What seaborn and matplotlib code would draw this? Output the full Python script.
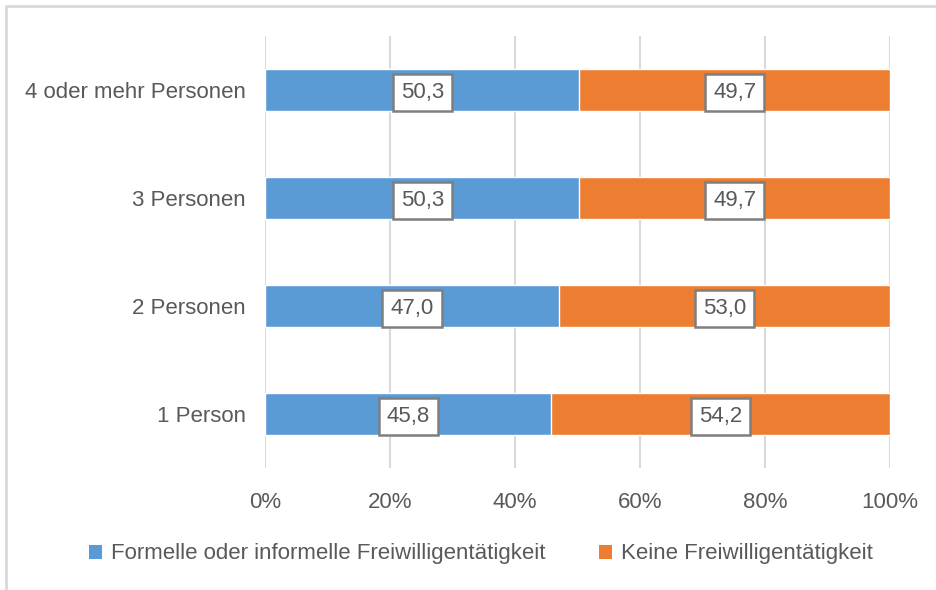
import matplotlib
matplotlib.use("Agg")
import matplotlib.pyplot as plt
import seaborn as sns
import pandas as pd
from matplotlib.lines import Line2D
from matplotlib.patches import Patch

categories = ["4 oder mehr Personen", "3 Personen", "2 Personen", "1 Person"]
formell = [50.3, 50.3, 47.0, 45.8]
keine = [49.7, 49.7, 53.0, 54.2]
series_names = ["Formelle oder informelle Freiwilligentätigkeit", "Keine Freiwilligentätigkeit"]
xticks = [0, 20, 40, 60, 80, 100]
xticklabels = ["0%", "20%", "40%", "60%", "80%", "100%"]

BLUE = "#5B9BD5"
ORANGE = "#ED7D31"
TEXT = "#595959"
GRID = "#D9D9D9"

sns.set_theme(style="white")
plt.rcParams["font.family"] = ["Liberation Sans", "DejaVu Sans"]

df = pd.DataFrame({"cat": categories, "formell": formell, "keine": keine})
df["total"] = df["formell"] + df["keine"]

fig = plt.figure(figsize=(9.36, 5.9), dpi=100)
ax = fig.add_axes([265/936, 1-468/590, (890-265)/936, (468-36)/590])

sns.barplot(data=df, x="total", y="cat", orient="h", color=ORANGE, width=0.39,
            saturation=1, ax=ax, zorder=3)
sns.barplot(data=df, x="formell", y="cat", orient="h", color=BLUE, width=0.39,
            saturation=1, ax=ax, zorder=4)

for i, (f, k) in enumerate(zip(formell, keine)):
    for xc, v in ((f / 2, f), (f + k / 2, k)):
        ax.text(xc, i, f"{v:.1f}".replace(".", ","), ha="center", va="center_baseline",
                fontsize=16, color=TEXT, zorder=6,
                bbox=dict(boxstyle="square,pad=0.36", fc="white", ec="#7F7F7F", lw=1.8))

ax.set_xlim(0, 100)
ax.set_ylim(3.5, -0.5)
ax.set_xticks(xticks)
ax.set_xticklabels(xticklabels)
ax.xaxis.grid(True, color=GRID, lw=1.5, zorder=0)
ax.set_axisbelow(True)
for s in ax.spines.values():
    s.set_visible(False)
ax.set_xlabel("")
ax.set_ylabel("")
ax.tick_params(axis="both", length=0, labelsize=16, labelcolor=TEXT)
ax.tick_params(axis="x", pad=17)
ax.tick_params(axis="y", pad=14)

handles = [Patch(facecolor=BLUE, edgecolor="none"), Patch(facecolor=ORANGE, edgecolor="none")]
fig.legend(handles, series_names, loc="center", bbox_to_anchor=(0.5 + 13/936, 1-554/590), ncol=2,
           frameon=False, fontsize=16, labelcolor=TEXT, handlelength=0.6, handleheight=0.6,
           handletextpad=0.4, columnspacing=2.4)

fig.add_artist(Line2D([6/936, 6/936], [0, 1-6/590], transform=fig.transFigure, color=GRID, lw=2))
fig.add_artist(Line2D([6/936, 1], [1-6/590, 1-6/590], transform=fig.transFigure, color=GRID, lw=2))

fig.savefig("out.png", dpi=100)
